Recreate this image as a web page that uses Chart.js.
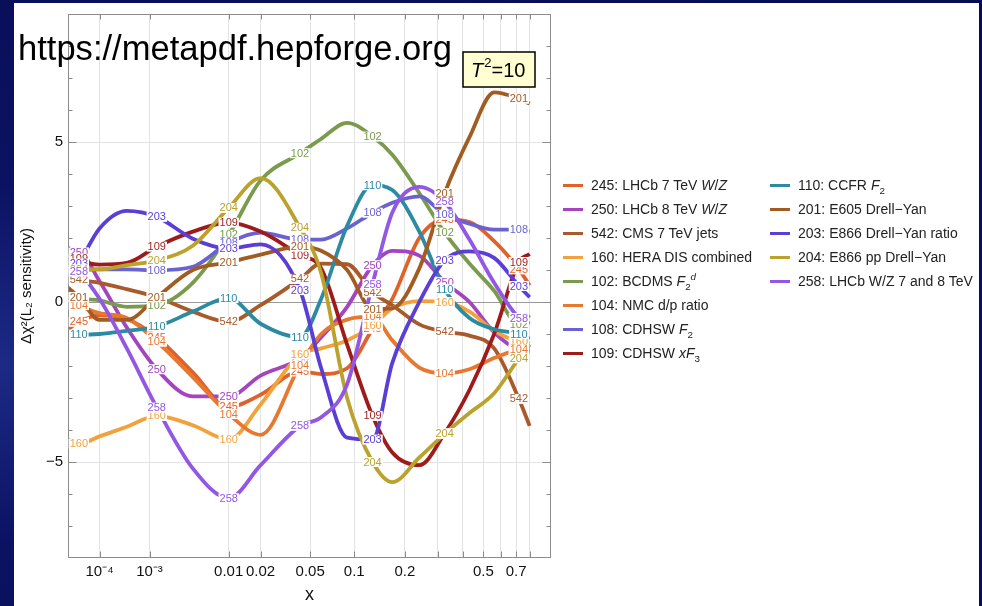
<!DOCTYPE html>
<html lang="en">
<head>
<meta charset="UTF-8">
<title>L2 sensitivity, T2=10</title>
<script src="https://cdn.jsdelivr.net/npm/chart.js"></script>
<style>
  body { margin: 0; width: 982px; height: 606px; overflow: hidden;
         background: radial-gradient(ellipse at 0% 60%, #1c2a86 0%, #0b1262 35%, #070c52 100%); }
  #panel { position: absolute; left: 14px; top: 3px; width: 965px; height: 603px; background: #fff; }
  #chart { position: absolute; left: 0; top: 0; }
  #legend { position: absolute; left: 0; top: 0; font: 14px "Liberation Sans", Arial, sans-serif; color: #222; }
  .item { position: absolute; height: 18px; line-height: 18px; white-space: nowrap; }
  .item sub, .item sup { font-size: 70%; line-height: 0; }
  .swatch { position: absolute; top: 8px; width: 20px; height: 3px; }
</style>
</head>
<body>
<div id="panel"></div>
<canvas id="chart" width="982" height="606"></canvas>
<div id="legend"></div>
<script>
const xGrid = [1e-5, 2.5e-5, 1e-4, 4e-4, 1.3e-3, 4e-3, 0.01, 0.02, 0.042, 0.06, 0.09, 0.13, 0.17, 0.24, 0.325, 0.43, 0.56, 0.72, 0.8];
// points of xGrid that carry a number label on every curve
const labelIdx = [1, 4, 6, 8, 11, 14, 17];

const s245 = [-0.85, -0.62, -0.42, -0.53, -1.1, -2.2, -3.28, -2.9, -2.17, -2.25, -2.07, -0.84, 0.1, 2.0, 2.57, 2.5, 1.9, 1.02, 0.52];
const s250 = [1.4, 1.55, 0.65, -0.8, -2.1, -2.95, -2.95, -2.3, -1.76, -1.1, -0.15, 1.15, 1.6, 1.45, 0.62, 0.0, -0.95, -1.5, -1.55];
const s542 = [0.85, 0.7, 0.6, 0.4, 0.15, -0.3, -0.62, -0.1, 0.72, 1.2, 1.18, 0.3, -0.1, -0.7, -0.93, -1.05, -1.45, -3.03, -3.87];
const s160 = [-4.3, -4.43, -4.2, -3.9, -3.56, -3.85, -4.3, -3.2, -1.64, -1.45, -1.2, -0.74, -0.2, 0.03, 0.0, -0.3, -0.9, -1.24, -1.3];
const s102 = [0.4, 0.15, 0.05, -0.15, -0.1, 0.6, 2.1, 3.8, 4.65, 5.1, 5.6, 5.17, 4.6, 3.4, 2.17, 1.2, 0.35, -0.7, -0.4];
const s104 = [0.1, -0.1, -0.35, -0.5, -1.24, -2.35, -3.5, -4.15, -1.98, -1.0, -0.55, -0.46, -1.2, -2.05, -2.23, -2.1, -1.75, -1.49, -1.45];
const s108 = [0.95, 1.0, 1.02, 1.02, 0.99, 1.1, 1.85, 2.17, 1.95, 1.95, 2.3, 2.79, 3.1, 3.3, 2.73, 2.45, 2.26, 2.26, 2.2];
const s109 = [1.7, 1.35, 1.17, 1.22, 1.73, 2.2, 2.48, 2.2, 1.46, 1.05, -1.33, -3.56, -4.7, -5.1, -4.1, -2.75, -1.0, 1.25, 1.5];
const s110 = [-1.02, -1.02, -1.0, -0.9, -0.77, -0.3, 0.12, -0.68, -1.1, 0.1, 2.38, 3.65, 3.5, 2.2, 0.4, -0.5, -0.85, -1.0, -1.15];
const s201 = [0.45, 0.15, -0.56, -0.56, 0.15, 1.0, 1.24, 1.48, 1.73, 1.6, 1.0, -0.22, -0.2, 1.05, 3.4, 5.15, 6.55, 6.35, 6.2];
const s203 = [0.7, 1.2, 2.3, 2.85, 2.66, 1.98, 1.67, 1.8, 0.37, -2.07, -4.24, -4.3, -1.9, 0.0, 1.3, 1.58, 1.38, 0.5, 0.15];
const s204 = [1.02, 1.02, 1.02, 1.15, 1.3, 1.76, 2.94, 3.87, 2.32, 0.9, -3.0, -5.0, -5.63, -4.86, -4.12, -3.47, -2.85, -1.76, -1.33];
const s258 = [1.2, 0.95, 0.1, -1.45, -3.3, -5.2, -6.13, -5.1, -3.87, -3.6, -2.57, 0.56, 2.8, 3.6, 3.13, 1.95, 0.6, -0.5, -0.68];

const codes = ['245', '250', '542', '160', '102', '104', '108', '109', '110', '201', '203', '204', '258'];
const values = [s245, s250, s542, s160, s102, s104, s108, s109, s110, s201, s203, s204, s258];
const names = [
  '245: LHCb 7 TeV <i>W</i>/<i>Z</i>',
  '250: LHCb 8 TeV <i>W</i>/<i>Z</i>',
  '542: CMS 7 TeV jets',
  '160: HERA DIS combined',
  '102: BCDMS <i>F</i><sub>2</sub><sup><i>d</i></sup>',
  '104: NMC d/p ratio',
  '108: CDHSW <i>F</i><sub>2</sub>',
  '109: CDHSW <i>xF</i><sub>3</sub>',
  '110: CCFR <i>F</i><sub>2</sub>',
  '201: E605 Drell\u2212Yan',
  '203: E866 Drell\u2212Yan ratio',
  '204: E866 pp Drell\u2212Yan',
  '258: LHCb W/Z 7 and 8 TeV'
];
const colors = ['#e0622b', '#a444bf', '#a85a2a', '#f2a23c', '#7a9a4e', '#e8782f', '#6b62d2',
                '#9e1b1b', '#2d8aa3', '#a25c22', '#5b3ed6', '#bba22c', '#9257e3'];

const xTickValues = [1e-4, 1e-3, 0.01, 0.02, 0.05, 0.1, 0.2, 0.3, 0.4, 0.5, 0.6, 0.7, 0.8];
const xTickLabels = ['10\u207B\u2074', '10\u207B\u00B3', '0.01', '0.02', '0.05', '0.1', '0.2', '', '', '0.5', '', '0.7', ''];
const yTickLabels = { '-5': '\u22125', '0': '0', '5': '5' };

// x axis spaced as x^(1/5), like the original plot
class PowScale extends Chart.LinearScale {
  static id = 'pow5';
  static defaults = {};
  determineDataLimits() {
    this.min = this.options.min;
    this.max = this.options.max;
  }
  buildTicks() {
    return xTickValues.map(v => ({ value: v }));
  }
  configure() {
    super.configure();
    this._t0 = Math.pow(this.min, 0.2);
    this._t1 = Math.pow(this.max, 0.2);
  }
  getPixelForValue(v) {
    return this.getPixelForDecimal((Math.pow(v, 0.2) - this._t0) / (this._t1 - this._t0));
  }
  getValueForPixel(p) {
    const d = this.getDecimalForPixel(p);
    return Math.pow(this._t0 + d * (this._t1 - this._t0), 5);
  }
}
Chart.register(PowScale);

const FONT = '"Liberation Sans", Arial, sans-serif';
Chart.defaults.font.family = FONT;
Chart.defaults.color = '#111';

// frame with inward ticks on all four sides
const frame = {
  id: 'frame',
  afterDatasetsDraw(chart) {
    const { ctx, chartArea: a, scales } = chart;
    ctx.save();
    ctx.strokeStyle = '#8c8c8c';
    ctx.lineWidth = 1;
    const L = Math.round(a.left) + 0.5, R = Math.round(a.right) - 0.5;
    const T = Math.round(a.top) + 0.5, B = Math.round(a.bottom) - 0.5;
    ctx.strokeRect(L, T, R - L, B - T);
    ctx.beginPath();
    xTickValues.forEach(v => {
      const px = Math.round(scales.x.getPixelForValue(v)) + 0.5;
      ctx.moveTo(px, B); ctx.lineTo(px, B - 6);
      ctx.moveTo(px, T); ctx.lineTo(px, T + 5);
    });
    for (let v = -7; v <= 8; v++) {
      const py = Math.round(scales.y.getPixelForValue(v)) + 0.5;
      const len = v % 5 === 0 ? 8 : 4;
      ctx.moveTo(L, py); ctx.lineTo(L + len, py);
      ctx.moveTo(R, py); ctx.lineTo(R - len, py);
    }
    ctx.stroke();
    ctx.restore();
  }
};

// number labels sitting on the curves
const curveLabels = {
  id: 'curveLabels',
  afterDatasetsDraw(chart) {
    const ctx = chart.ctx;
    ctx.save();
    ctx.font = '11px ' + FONT;
    ctx.textAlign = 'center';
    ctx.textBaseline = 'middle';
    chart.data.datasets.forEach((ds, i) => {
      const meta = chart.getDatasetMeta(i);
      labelIdx.forEach(k => {
        const p = meta.data[k];
        const w = ctx.measureText(ds.code).width;
        ctx.fillStyle = '#fff';
        ctx.fillRect(p.x - w / 2 - 1, p.y - 5, w + 2, 10);
        ctx.fillStyle = ds.borderColor;
        ctx.fillText(ds.code, p.x, p.y + 0.5);
      });
    });
    ctx.restore();
  }
};

// the url and the T^2 box
const notes = {
  id: 'notes',
  afterDraw(chart) {
    const ctx = chart.ctx;
    ctx.save();
    ctx.fillStyle = '#000';
    ctx.textBaseline = 'alphabetic';
    ctx.textAlign = 'left';
    ctx.font = '35px ' + FONT;
    ctx.fillText('https://metapdf.hepforge.org', 18, 60, 434);

    ctx.fillStyle = '#ffffd2';
    ctx.fillRect(463, 52, 72, 35);
    ctx.strokeStyle = '#000';
    ctx.lineWidth = 1.5;
    ctx.strokeRect(463, 52, 72, 35);
    ctx.fillStyle = '#000';
    ctx.font = 'italic 20px ' + FONT;
    ctx.fillText('T', 471, 77);
    let x = 471 + ctx.measureText('T').width + 1;
    ctx.font = '13px ' + FONT;
    ctx.fillText('2', x, 67);
    x += ctx.measureText('2').width;
    ctx.font = '20px ' + FONT;
    ctx.fillText('=10', x, 77);
    ctx.restore();
  }
};

const datasets = codes.map((code, i) => ({
  code,
  data: xGrid.map((x, k) => ({ x, y: values[i][k] })),
  borderColor: colors[i],
  borderWidth: 3.8,
  pointRadius: 0,
  cubicInterpolationMode: 'monotone',
  order: codes.length - i
}));

new Chart(document.getElementById('chart'), {
  type: 'line',
  data: { datasets },
  options: {
    responsive: false,
    animation: false,
    layout: { padding: { left: 0, top: 10, right: 431, bottom: 0 } },
    plugins: { legend: { display: false }, tooltip: { enabled: false } },
    scales: {
      x: {
        type: 'pow5',
        min: 1e-5,
        max: 0.98,
        afterFit(s) { s.height = 48; },
        ticks: { autoSkip: false, maxRotation: 0, padding: 5, font: { size: 15 },
                 callback: (v, i) => xTickLabels[i] },
        grid: { drawTicks: false, color: '#e3e3e3' },
        border: { display: false },
        title: { display: true, text: 'x', font: { size: 18 }, padding: 0 }
      },
      y: {
        min: -8,
        max: 9,
        afterFit(s) { s.width = 68; },
        ticks: { stepSize: 1, autoSkip: false, padding: 5, font: { size: 15 },
                 callback: v => yTickLabels[v] ?? '' },
        grid: {
          drawTicks: false,
          color: c => c.tick.value === 0 ? '#9a9a9a' : (Math.abs(c.tick.value) === 5 ? '#e3e3e3' : 'rgba(0,0,0,0)')
        },
        border: { display: false },
        title: { display: true, text: '\u0394\u03C7\u00B2(L\u2082 sensitivity)', font: { size: 15 },
                 padding: { top: 18, bottom: 0 } }
      }
    }
  },
  plugins: [frame, curveLabels, notes]
});

// legend in two columns, as in the original
const legend = document.getElementById('legend');
codes.forEach((code, i) => {
  const col = i < 8 ? 0 : 1;
  const row = i < 8 ? i : i - 8;
  const item = document.createElement('div');
  item.className = 'item';
  item.style.left = (col ? 770 : 563) + 'px';
  item.style.top = (176 + row * 24) + 'px';
  item.innerHTML = '<span class="swatch" style="left:0;background:' + colors[i] + '"></span>' +
                   '<span style="margin-left:28px">' + names[i] + '</span>';
  legend.appendChild(item);
});
</script>
</body>
</html>
